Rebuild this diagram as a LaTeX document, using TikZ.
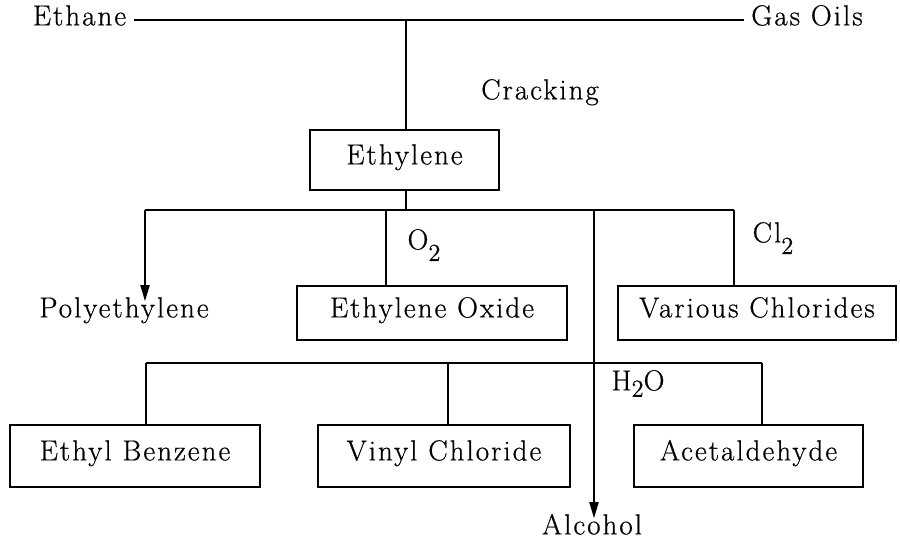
\documentclass[tikz,border=0pt]{standalone}
\usepackage{fontspec}
\setmainfont{Latin Modern Roman}[LetterSpace=7,FakeBold=0.6]
\usetikzlibrary{arrows.meta}
\newcommand{\chemsub}[2][-0.4em]{\raisebox{#1}{\fontsize{14}{14}\selectfont #2}}
\begin{document}
\begin{tikzpicture}[x=0.02cm,y=-0.02cm,
  every node/.style={font=\fontsize{16.5}{19}\selectfont},
  lbl/.style={inner xsep=4pt,inner ysep=2pt,text height=0.7em,text depth=0.2em},
  prod/.style={draw,line width=1.1pt,inner sep=0pt,text height=0.7em,text depth=0.2em},
  ln/.style={line width=1.1pt},
  arr/.style={line width=1.1pt,-{Triangle[length=3.2mm,width=1.8mm]}}]
\useasboundingbox (0,0) rectangle (900,542);
% top row
\node[lbl] (ethane) at (79.5,21) {Ethane};
\node[lbl] (gasoils) at (807,21) {Gas Oils};
\node[lbl] (cracking) at (540,95) {Cracking};
\node[prod,minimum width=3.78cm,minimum height=1.2cm] (ethylene) at (404.5,160) {Ethylene};
% first level
\node[lbl] (poly) at (124,313) {Polyethylene};
\node[prod,minimum width=5.4cm,minimum height=1.08cm] (eo) at (432,313) {Ethylene Oxide};
\node[prod,minimum width=5.56cm,minimum height=1.08cm] (vcl) at (757,313) {Various Chlorides};
\node[lbl] (o2) at (424,245) {O\chemsub{2}};
\node[lbl] (cl2) at (773,238) {Cl\chemsub{2}};
% second level
\node[prod,minimum width=5.0cm,minimum height=1.24cm] (eb) at (135,456) {Ethyl Benzene};
\node[prod,minimum width=5.04cm,minimum height=1.24cm] (vinyl) at (444,456) {Vinyl Chloride};
\node[prod,minimum width=4.58cm,minimum height=1.24cm] (acet) at (748.5,456) {Acetaldehyde};
\node[lbl] (h2o) at (638,386) {H\chemsub[-0.22em]{2}O};
\node[lbl] (alcohol) at (592,530) {Alcohol};
% bus coordinates
\coordinate (top) at (406,20);
\coordinate (b1L) at (145,210);
\coordinate (b1o) at (386,210);
\coordinate (b1a) at (594,210);
\coordinate (b1R) at (734,210);
\coordinate (b2L) at (146,363);
\coordinate (b2m) at (448,363);
\coordinate (b2R) at (762,363);
% connectors
\draw[ln] (ethane.east |- top) -- (gasoils.west |- top);
\draw[ln] (top) -- (top |- ethylene.north);
\draw[ln] (ethylene.south -| top) -- (top |- b1L);
\draw[ln] (b1L) -- (b1R);
\draw[arr] (b1L) -- (b1L |- poly.north);
\draw[ln] (b1o) -- (b1o |- eo.north);
\draw[ln] (b1R) -- (b1R |- vcl.north);
\draw[arr] (b1a) -- (b1a |- alcohol.north);
\draw[ln] (b2L) -- (b2R);
\draw[ln] (b2L) -- (b2L |- eb.north);
\draw[ln] (b2m) -- (b2m |- vinyl.north);
\draw[ln] (b2R) -- (b2R |- acet.north);
\end{tikzpicture}
\end{document}
